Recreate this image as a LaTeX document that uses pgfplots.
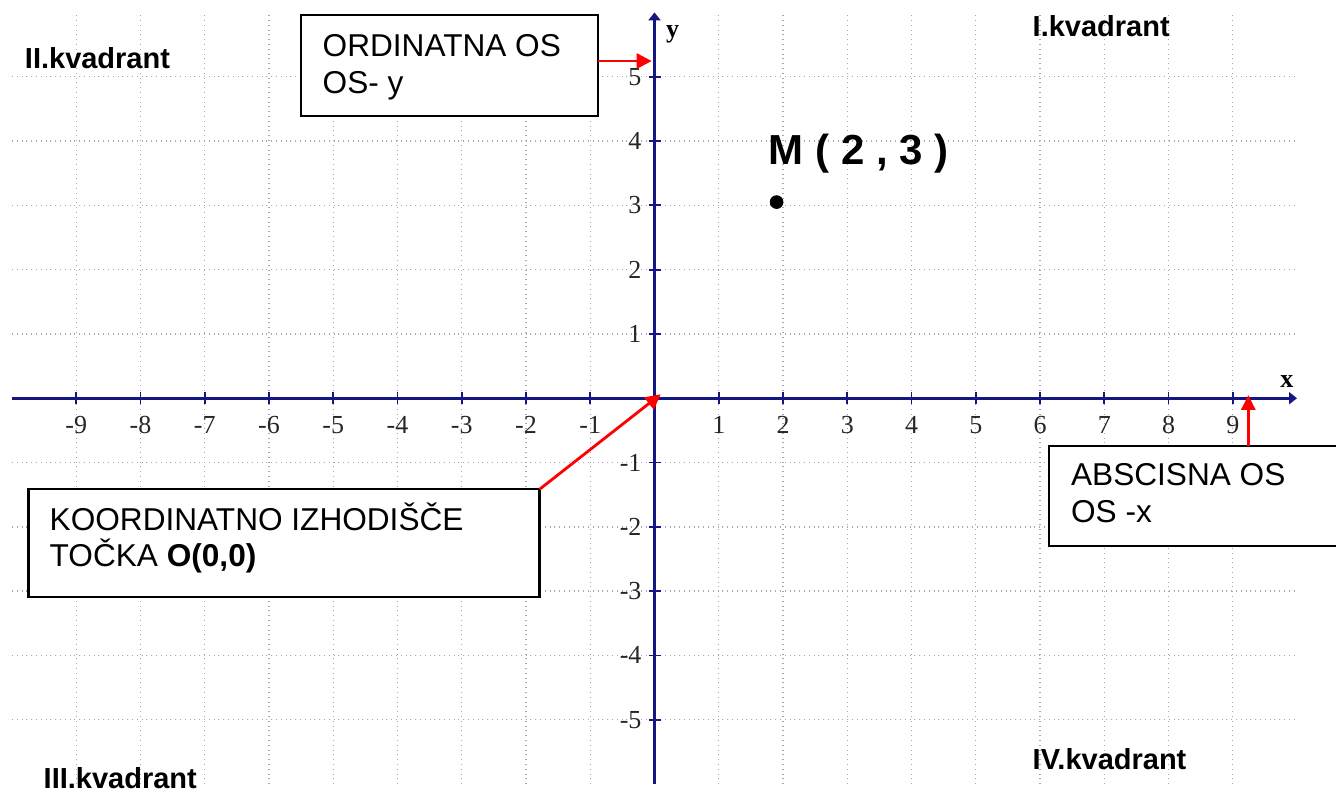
\documentclass[border=0pt]{standalone}
\usepackage{pgfplots}
\pgfplotsset{compat=1.18}
\usetikzlibrary{arrows.meta}
\usepackage{fontspec}
\setmainfont{Liberation Sans}
\newfontfamily\tms{Liberation Serif}
\definecolor{axnavy}{RGB}{22,22,130}
\definecolor{gridc}{RGB}{165,165,190}
\begin{document}
\begin{tikzpicture}
\begin{axis}[
  x=32.125pt, y=32.15pt,
  xmin=-10, xmax=10, ymin=-6, ymax=6,
  enlargelimits=false,
  axis lines=middle,
  axis line style={line width=1.3pt, color=axnavy, -{Triangle[length=4pt,width=6pt]}},
  clip=false,
  xtick={-9,-8,-7,-6,-5,-4,-3,-2,-1,1,2,3,4,5,6,7,8,9},
  xticklabels={-9,-8,-7,-6,-5,-4,-3,-2,-1,1,2,3,4,5,6,7,8,9},
  ytick={-5,-4,-3,-2,-1,1,2,3,4,5},
  yticklabels={-5,-4,-3,-2,-1,1,2,3,4,5},
  tick style={color=axnavy, line width=0.9pt},
  major tick length=6pt,
  tick label style={font=\tms\fontsize{13}{13}\selectfont, text=black!85},
  xticklabel style={yshift=-2.5pt},
  grid=major,
  major grid style={dotted, color=gridc, line width=0.7pt},
]
\addplot[only marks, mark=*, mark size=3.2pt, black] coordinates {(1.9,3.05)};

% axis names
\node[anchor=base, inner sep=0, font=\tms\bfseries\fontsize{13}{13}\selectfont] at (axis cs:9.844,0.174) {x};
\node[anchor=base, inner sep=0, font=\tms\bfseries\fontsize{13}{13}\selectfont] at (axis cs:0.28,5.617) {y};

% quadrant labels
\node[anchor=base west, inner sep=0, font=\bfseries\fontsize{14.5}{14.5}\selectfont] at (axis cs:-9.805,5.135) {II.kvadrant};
\node[anchor=base west, inner sep=0, font=\bfseries\fontsize{14.5}{14.5}\selectfont] at (axis cs:5.880,5.633) {I.kvadrant};
\node[anchor=base west, inner sep=0, font=\bfseries\fontsize{14.5}{14.5}\selectfont] at (axis cs:-9.513,-6.075) {III.kvadrant};
\node[anchor=base west, inner sep=0, font=\bfseries\fontsize{14.5}{14.5}\selectfont] at (axis cs:5.880,-5.782) {IV.kvadrant};

% point label
\node[anchor=base west, inner sep=0, font=\bfseries\fontsize{21}{21}\selectfont] at (axis cs:1.774,3.627)
  {M ( 2 , 3 )};

% ORDINATNA box
\draw[line width=1.1pt, fill=white] (axis cs:-5.497,5.960) rectangle (axis cs:-0.876,4.389);
\node[anchor=base west, inner sep=0, font=\fontsize{15.8}{15.8}\selectfont] at (axis cs:-5.170,5.311) {ORDINATNA OS};
\node[anchor=base west, inner sep=0, font=\fontsize{15.8}{15.8}\selectfont] at (axis cs:-5.170,4.742) {OS- y};
\draw[red, line width=1.4pt, -{Triangle[length=7.5pt,width=7.5pt]}] (axis cs:-0.876,5.244) -- (axis cs:-0.044,5.244);

% KOORDINATNO box
\draw[line width=1.1pt, fill=white] (axis cs:-9.742,-1.417) rectangle (axis cs:-1.790,-3.087);
\node[anchor=base west, inner sep=0, font=\fontsize{15.8}{15.8}\selectfont] at (axis cs:-9.419,-2.050) {KOORDINATNO IZHODIŠČE};
\node[anchor=base west, inner sep=0, font=\fontsize{15.8}{15.8}\selectfont] at (axis cs:-9.419,-2.610) {TOČKA \textbf{O(0,0)}};
\draw[red, line width=1.4pt, -{Triangle[length=7.5pt,width=7.5pt]}] (axis cs:-1.790,-1.417) -- (axis cs:0.0965,0.0607);

% ABSCISNA box
\draw[line width=1.1pt, fill=white] (axis cs:6.140,-0.739) rectangle (axis cs:10.75,-2.294);
\node[anchor=base west, inner sep=0, font=\fontsize{15.8}{15.8}\selectfont] at (axis cs:6.478,-1.365) {ABSCISNA OS};
\node[anchor=base west, inner sep=0, font=\fontsize{15.8}{15.8}\selectfont] at (axis cs:6.478,-1.936) {OS -x};
\draw[red, line width=1.5pt, -{Triangle[length=7.5pt,width=7pt]}] (axis cs:9.242,-0.739) -- (axis cs:9.242,0.050);

\coordinate (BL) at (axis cs:-10.187,-6.139);
\coordinate (TR) at (axis cs:10.607,6.193);
\end{axis}
\pgfresetboundingbox
\useasboundingbox (BL) rectangle (TR);
\end{tikzpicture}
\end{document}
